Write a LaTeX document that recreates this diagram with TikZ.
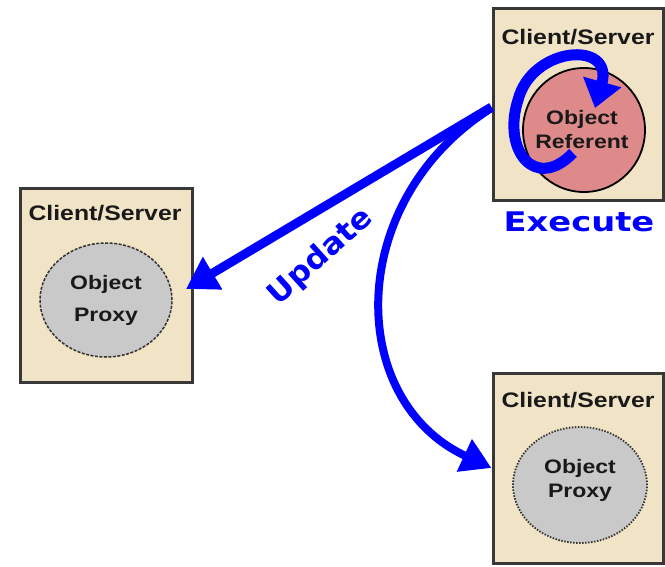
\documentclass[tikz,border=0pt]{standalone}
\usepackage{fontspec}
\usetikzlibrary{arrows.meta,shapes.geometric}
\newfontfamily\labfont[FakeStretch=1.18]{Liberation Sans}
\newfontfamily\bigfont[FakeStretch=1.25]{DejaVu Sans}
\newfontfamily\updfont[FakeStretch=1.05]{DejaVu Sans}
\definecolor{boxfill}{HTML}{F1E3C5}
\definecolor{boxline}{HTML}{383838}
\definecolor{proxyfill}{HTML}{C9C9C9}
\definecolor{reffill}{HTML}{DE8A8A}
\definecolor{flow}{HTML}{0000FF}
\tikzset{
  hostbox/.style={draw=boxline, line width=3, fill=boxfill, rectangle, inner sep=0},
  hostlabel/.style={font=\labfont\bfseries\fontsize{21}{24}\selectfont, text=black!90},
  objlabel/.style={font=\labfont\bfseries\fontsize{19.5}{24}\selectfont, align=center, text=black!90, inner sep=0},
  proxyA/.style={ellipse, draw=black!80, line width=1.5, dash pattern=on 3 off 1.5, fill=proxyfill, inner sep=0},
  proxyB/.style={ellipse, draw=black!80, line width=1.8, dash pattern=on 1.5 off 1.5, fill=proxyfill, inner sep=0},
  refobj/.style={ellipse, draw=black, line width=1.8, fill=reffill, inner sep=0},
  flowarrow/.style={draw=flow, line width=9, -{Triangle[length=31,width=36]}},
  flowtext/.style={text=flow, font=\bigfont\bfseries\fontsize{27}{30}\selectfont},
  updtext/.style={text=flow, font=\updfont\bfseries\fontsize{30}{30}\selectfont, inner sep=0}
}
\begin{document}
\begin{tikzpicture}[x=1pt,y=-1pt]
\useasboundingbox (0,0) rectangle (665,566);
% boxes
\node[hostbox, minimum width=172, minimum height=194] (lbox) at (106,285) {};
\node[hostbox, minimum width=170, minimum height=192] (tbox) at (578,104) {};
\node[hostbox, minimum width=170, minimum height=190] (bbox) at (578,468) {};
\node[hostlabel] (llab) at (105,213) {Client/Server};
\node[hostlabel] (tlab) at (578,37) {Client/Server};
\node[hostlabel] (blab) at (578,400) {Client/Server};
% objects
\node[proxyA, minimum width=132, minimum height=114] (lobj) at (106,300) {};
\node[objlabel] (ltxt) at (106,300) {Object\\[8pt]Proxy};
\node[proxyB, minimum width=134, minimum height=116] (bobj) at (580,485) {};
\node[objlabel] (btxt) at (580,480) {Object\\Proxy};
\node[refobj, minimum width=122, minimum height=124] (robj) at (584,130) {};
\node[objlabel] (rtxt) at (582,130) {Object\\Referent};
% loop (execute)
\coordinate (loopstart) at (573,153);
\coordinate (looptip) at (595,108);
\draw[draw=flow, line width=11, -{Triangle[length=27,width=38]}]
  (loopstart) .. controls (535,192) and (502,150) .. (518,100)
  .. controls (532,46) and (614,40) .. (looptip);
\node[flowtext] (exec) at (579,222) {Execute};
% update arrows
\coordinate (lend) at (186,289);
\draw[flowarrow] ([yshift=-3]tbox.west) -- (lend);
\draw[draw=flow, line width=8, -{Triangle[length=30,width=34]}]
  ([yshift=-4]tbox.west) .. controls (345,200) and (345,400) .. (bbox.west);
\node[updtext, rotate=42] (upd) at (321,257) {Update};
\end{tikzpicture}
\end{document}
